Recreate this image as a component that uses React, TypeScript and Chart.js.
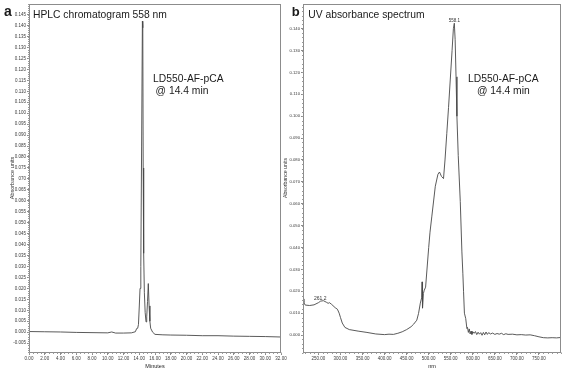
import { useEffect, useRef } from 'react';
import { Chart, registerables } from 'chart.js';

Chart.register(...registerables);

// ---------- Panel a: HPLC chromatogram ----------
const timeMin = [0, 2, 4, 6, 8, 10, 10.5, 11, 12, 13, 13.5, 13.68, 13.8, 13.9, 14.0, 14.1, 14.2, 14.3, 14.4, 14.45, 14.5, 14.56, 14.65, 14.75, 14.86, 14.95, 15.05, 15.15, 15.25, 15.35, 15.45, 15.7, 16, 17, 18, 20, 22, 24, 26, 28, 30, 32];
const absA = [0.0003, 0.0002, 0.0001, -0.0001, -0.0002, -0.0003, 0.0001, -0.0004, -0.0004, -0.0003, 0.0002, 0.0017, 0.0018, 0.0035, 0.0115, 0.020, 0.030, 0.085, 0.142, 0.139, 0.075, 0.036, 0.018, 0.009, 0.0047, 0.007, 0.014, 0.0222, 0.012, 0.005, 0.0018, 0.0000, -0.0010, -0.0012, -0.0013, -0.0014, -0.0016, -0.0016, -0.0018, -0.0019, -0.0020, -0.0022];
const xTicksA = [0, 2, 4, 6, 8, 10, 12, 14, 16, 18, 20, 22, 24, 26, 28, 30, 32];
const yTicksA = [-0.005, 0, 0.005, 0.01, 0.015, 0.02, 0.025, 0.03, 0.035, 0.04, 0.045, 0.05, 0.055, 0.06, 0.065, 0.07, 0.075, 0.08, 0.085, 0.09, 0.095, 0.1, 0.105, 0.11, 0.115, 0.12, 0.125, 0.13, 0.135, 0.14, 0.145];

// ---------- Panel b: UV absorbance spectrum ----------
const waveNm = [215, 217, 220, 230, 240, 250, 255, 261.2, 268, 272, 275, 280, 288, 293, 297, 300, 304, 310, 320, 340, 360, 380, 400, 410, 420, 430, 440, 450, 460, 466, 473, 477, 481, 484, 485, 486, 488, 490, 493, 496, 500, 503, 507, 515, 521, 524.5, 529, 533.6, 537, 541, 545, 549, 553, 556, 558.1, 560, 562, 564, 567, 571.6, 575.3, 577.5, 579, 581, 584, 586.6, 588, 590, 592, 594, 596, 598, 600, 603, 606, 609, 612, 615, 618, 621, 624, 627, 630, 633, 636, 640, 645, 650, 655, 660, 665, 670, 675, 680, 690, 700, 710, 720, 730, 740, 750, 760, 770, 780, 790, 800];
const absB = [0.0165, 0.0148, 0.0137, 0.0135, 0.0138, 0.0148, 0.0155, 0.0157, 0.0150, 0.0145, 0.0148, 0.0140, 0.0125, 0.0118, 0.0100, 0.0080, 0.0055, 0.0035, 0.0025, 0.0018, 0.0012, 0.0005, 0.0002, 0.0004, 0.0003, 0.0008, 0.0015, 0.0025, 0.0038, 0.0050, 0.0068, 0.0099, 0.0146, 0.0170, 0.0243, 0.0123, 0.0190, 0.0205, 0.0219, 0.0297, 0.040, 0.047, 0.054, 0.068, 0.0735, 0.0745, 0.0725, 0.0715, 0.080, 0.092, 0.104, 0.117, 0.130, 0.140, 0.1425, 0.135, 0.118, 0.100, 0.082, 0.061, 0.038, 0.028, 0.020, 0.010, 0.0075, 0.0030, 0.0035, 0.0012, 0.0028, 0.0005, 0.0018, 0.0003, 0.0015, 0.0008, 0.0016, 0.0002, 0.0013, 0.0004, 0.0011, -0.0001, 0.0012, 0.0001, 0.0014, 0.0003, 0.0011, 0.0005, 0.0009, 0.0003, 0.0007, 0.0004, 0.0008, 0.0002, 0.0006, 0.0003, 0.0004, 0.0001, 0.0002, 0.0000, 0.0001, -0.0003, -0.0008, -0.0012, -0.0013, -0.0012, -0.0013, -0.0011];
const xTicksB = [250, 300, 350, 400, 450, 500, 550, 600, 650, 700, 750];
const yTicksB = [0, 0.01, 0.02, 0.03, 0.04, 0.05, 0.06, 0.07, 0.08, 0.09, 0.1, 0.11, 0.12, 0.13, 0.14];

const FONT = 'Liberation Sans, Arial, Helvetica, sans-serif';
const LINE = '#474747';
const AXIS = '#8c8c8c';
const TICKTXT = '#3a3a3a';

type TextItem = { t: string; x: number; y: number; size: number; bold?: boolean; align?: CanvasTextAlign; rot?: boolean };
type ValueLabel = { t: string; xv: number; yv: number; dy: number; size: number };

const overlay = {
  id: 'overlay',
  afterDraw(chart: any, _args: any, opts: any) {
    const { ctx, chartArea: a } = chart;
    const xs = chart.scales.x;
    const ys = chart.scales.y;
    ctx.save();
    ctx.strokeStyle = AXIS;
    ctx.lineWidth = 1;
    const l = Math.round(a.left) + 0.5, t = Math.round(a.top) + 0.5;
    const r = Math.round(a.right) - 0.5, b = Math.round(a.bottom) - 0.5;
    ctx.strokeRect(l, t, r - l, b - t);
    ctx.strokeStyle = '#9a9a9a';
    ctx.beginPath();
    for (let v = opts.minorX.start; v <= xs.max + 1e-9; v += opts.minorX.step) {
      const px = Math.round(xs.getPixelForValue(v)) + 0.5;
      if (px < a.left - 1 || px > a.right + 1) continue;
      ctx.moveTo(px, b);
      ctx.lineTo(px, b + 1.5);
    }
    for (let v = opts.minorY.start; v <= ys.max + 1e-9; v += opts.minorY.step) {
      const py = Math.round(ys.getPixelForValue(v)) + 0.5;
      if (py < a.top - 1 || py > a.bottom + 1) continue;
      ctx.moveTo(l, py);
      ctx.lineTo(l - 1.5, py);
    }
    ctx.stroke();
    ctx.fillStyle = '#1a1a1a';
    (opts.texts as TextItem[]).forEach((it) => {
      ctx.font = `${it.bold ? 'bold ' : ''}${it.size}px ${FONT}`;
      ctx.textAlign = it.align || 'left';
      if (it.rot) {
        ctx.save();
        ctx.translate(it.x, it.y);
        ctx.rotate(-Math.PI / 2);
        ctx.textAlign = 'center';
        ctx.textBaseline = 'middle';
        ctx.fillStyle = '#333';
        ctx.fillText(it.t, 0, 0);
        ctx.restore();
      } else {
        ctx.textBaseline = 'alphabetic';
        ctx.fillText(it.t, it.x, it.y);
      }
    });
    (opts.valueLabels as ValueLabel[]).forEach((it) => {
      ctx.font = `${it.size}px ${FONT}`;
      ctx.textAlign = 'center';
      ctx.textBaseline = 'alphabetic';
      ctx.fillStyle = '#333';
      ctx.fillText(it.t, xs.getPixelForValue(it.xv), ys.getPixelForValue(it.yv) + it.dy);
    });
    ctx.restore();
  },
};

function makeConfig(p: {
  xs: number[]; ys: number[]; xMin: number; xMax: number; yMin: number; yMax: number;
  xTicks: number[]; yTicks: number[]; xFmt: (v: number) => string; yFmt: (v: number) => string;
  yWidth: number; padRight: number; minorX: any; minorY: any; texts: TextItem[]; valueLabels: ValueLabel[];
  yFont: number;
}): any {
  return {
    type: 'line',
    data: {
      datasets: [
        {
          data: p.xs.map((x, i) => ({ x, y: p.ys[i] })),
          borderColor: LINE,
          borderWidth: 0.9,
          pointRadius: 0,
          tension: 0,
          fill: false,
        },
      ],
    },
    options: {
      responsive: false,
      animation: false,
      events: [],
      layout: { padding: { top: 3, right: p.padRight, left: 0, bottom: 0 } },
      plugins: {
        legend: { display: false },
        tooltip: { enabled: false },
        overlay: { texts: p.texts, valueLabels: p.valueLabels, minorX: p.minorX, minorY: p.minorY },
      },
      scales: {
        x: {
          type: 'linear',
          min: p.xMin,
          max: p.xMax,
          afterFit: (s: any) => { s.height = 18; },
          afterBuildTicks: (s: any) => { s.ticks = p.xTicks.map((v) => ({ value: v })); },
          ticks: {
            callback: (v: any) => p.xFmt(Number(v)),
            font: { size: 4.5, family: FONT },
            color: TICKTXT,
            padding: 1,
            maxRotation: 0,
            autoSkip: false,
          },
          grid: { drawOnChartArea: false, tickLength: 2, color: AXIS },
          border: { display: false },
        },
        y: {
          type: 'linear',
          min: p.yMin,
          max: p.yMax,
          afterFit: (s: any) => { s.width = p.yWidth; },
          afterBuildTicks: (s: any) => { s.ticks = p.yTicks.map((v) => ({ value: v })); },
          ticks: {
            callback: (v: any) => p.yFmt(Number(v)),
            font: { size: p.yFont, family: FONT },
            color: TICKTXT,
            padding: 1,
            autoSkip: false,
          },
          grid: { drawOnChartArea: false, tickLength: 2, color: AXIS },
          border: { display: false },
        },
      },
    },
    plugins: [overlay],
  };
}

export default function App() {
  const refA = useRef<HTMLCanvasElement>(null);
  const refB = useRef<HTMLCanvasElement>(null);

  useEffect(() => {
    const fmtYA = (v: number) => {
      const s = v.toFixed(3);
      return s === '0.070' ? '070' : s;
    };
    const chartA = new Chart(refA.current as HTMLCanvasElement, makeConfig({
      xs: timeMin, ys: absA, xMin: 0, xMax: 32, yMin: -0.0095, yMax: 0.150,
      xTicks: xTicksA, yTicks: yTicksA,
      xFmt: (v) => v.toFixed(2), yFmt: fmtYA,
      yWidth: 29, padRight: 11, yFont: 4.5,
      minorX: { start: 0, step: 0.5 }, minorY: { start: -0.009, step: 0.001 },
      texts: [
        { t: 'a', x: 4, y: 16, size: 14, bold: true },
        { t: 'HPLC chromatogram 558 nm', x: 33, y: 18.3, size: 10.3 },
        { t: 'LD550-AF-pCA', x: 188.3, y: 81.5, size: 10.3, align: 'center' },
        { t: '@ 14.4 min', x: 182, y: 93.5, size: 10.3, align: 'center' },
        { t: 'Minutes', x: 155, y: 368, size: 5.5, align: 'center' },
        { t: 'Absorbance units', x: 12, y: 178, size: 5.5, rot: true },
      ],
      valueLabels: [],
    }));
    const chartB = new Chart(refB.current as HTMLCanvasElement, makeConfig({
      xs: waveNm, ys: absB, xMin: 215, xMax: 800, yMin: -0.0082, yMax: 0.1515,
      xTicks: xTicksB, yTicks: yTicksB,
      xFmt: (v) => v.toFixed(2), yFmt: (v) => v.toFixed(3),
      yWidth: 20, padRight: 5, yFont: 4.2,
      minorX: { start: 220, step: 10 }, minorY: { start: -0.008, step: 0.002 },
      texts: [
        { t: 'b', x: 8.7, y: 16, size: 13, bold: true },
        { t: 'UV absorbance spectrum', x: 25.3, y: 17.5, size: 10.3 },
        { t: 'LD550-AF-pCA', x: 220.3, y: 81.7, size: 10.3, align: 'center' },
        { t: '@ 14.4 min', x: 220.3, y: 94, size: 10.3, align: 'center' },
        { t: 'nm', x: 149, y: 368, size: 5.5, align: 'center' },
        { t: 'Absorbance units', x: 3, y: 178, size: 5.2, rot: true },
      ],
      valueLabels: [
        { t: '558.1', xv: 558.1, yv: 0.1425, dy: -1.5, size: 4.5 },
        { t: '261.2', xv: 254, yv: 0.0157, dy: -0.5, size: 5 },
      ],
    }));
    return () => {
      chartA.destroy();
      chartB.destroy();
    };
  }, []);

  return (
    <div style={{ position: 'fixed', left: 0, top: 0, width: 566, height: 371, background: '#fff', overflow: 'hidden' }}>
      <canvas ref={refA} width={292} height={371} style={{ position: 'absolute', left: 0, top: 0, width: 292, height: 371 }} />
      <canvas ref={refB} width={283} height={371} style={{ position: 'absolute', left: 283, top: 0, width: 283, height: 371 }} />
    </div>
  );
}
